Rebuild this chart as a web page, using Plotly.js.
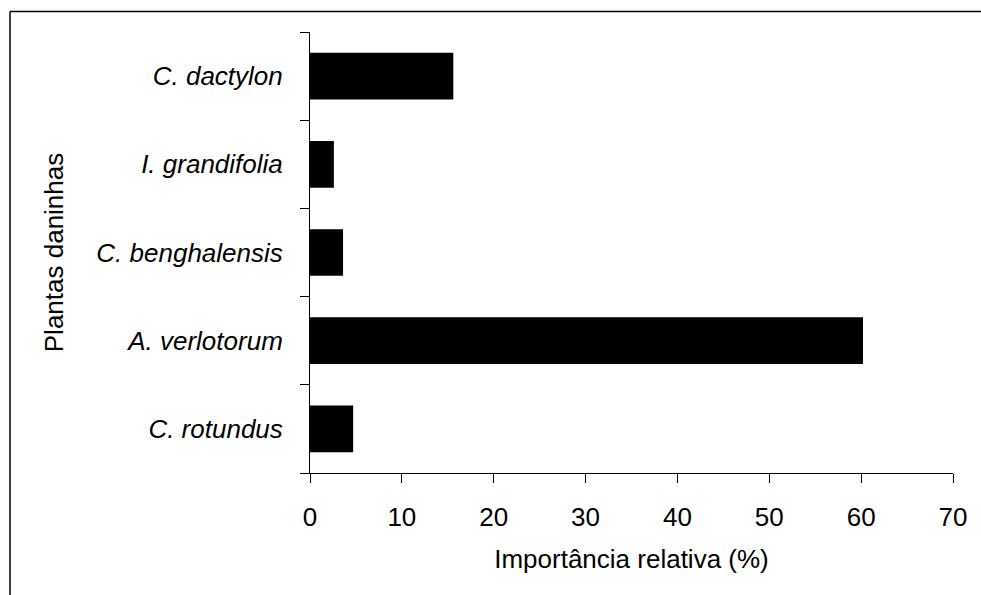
<!DOCTYPE html>
<html>
<head>
<meta charset="utf-8">
<script src="https://cdn.plot.ly/plotly-3.0.1.min.js"></script>
<style>
html,body{margin:0;padding:0;background:#fff;}
#chart{width:981px;height:595px;}
</style>
</head>
<body>
<div id="chart"></div>
<script>
const species = ["C. rotundus", "A. verlotorum", "C. benghalensis", "I. grandifolia", "C. dactylon"];
const importance = [4.7, 60.2, 3.6, 2.6, 15.6];
const xTickValues = [0, 10, 20, 30, 40, 50, 60, 70];
const xTitle = "Importância relativa (%)";
const yTitle = "Plantas daninhas";

const W = 981, H = 595;
const m = {l: 310, r: 28, t: 32, b: 122};
const pw = W - m.l - m.r, ph = H - m.t - m.b;
const px = v => (v - m.l) / pw;
const py = v => (H - m.b - v) / ph;

const trace = {
  type: "bar",
  orientation: "h",
  y: species,
  x: importance,
  marker: {color: "#000000", line: {width: 0}},
  hoverinfo: "x+y"
};

const FONT = "Liberation Sans, Arial, sans-serif";

const layout = {
  width: W, height: H,
  margin: m,
  paper_bgcolor: "#ffffff",
  plot_bgcolor: "#ffffff",
  showlegend: false,
  bargap: 0.47,
  font: {family: FONT, color: "#000", size: 26},
  xaxis: {
    range: [0, 70],
    tickvals: xTickValues,
    ticktext: xTickValues.map(String),
    ticks: "outside", ticklen: 9, tickwidth: 1, tickcolor: "#000",
    showline: true, linecolor: "#000", linewidth: 1,
    showgrid: false, zeroline: false,
    tickfont: {size: 26, family: FONT},
    ticklabelstandoff: 12,
    title: {text: xTitle, font: {size: 26, family: FONT}, standoff: 18},
    automargin: false
  },
  yaxis: {
    type: "category",
    categoryorder: "array", categoryarray: species,
    range: [-0.5, 4.5],
    ticks: "outside", tickson: "boundaries", ticklen: 9, tickwidth: 1, tickcolor: "#000",
    showline: true, linecolor: "#000", linewidth: 1,
    showgrid: false, zeroline: false,
    tickfont: {size: 26, family: FONT, style: "italic"},
    ticklabelstandoff: 21,
    title: {text: yTitle, font: {size: 26, family: FONT}, standoff: 25},
    automargin: false
  },
  shapes: [
    {type: "line", xref: "paper", yref: "paper", x0: px(10), x1: px(10), y0: py(H + 5), y1: py(11.5), line: {color: "#000", width: 1.5}},
    {type: "line", xref: "paper", yref: "paper", x0: px(10), x1: px(W + 5), y0: py(11.5), y1: py(11.5), line: {color: "#000", width: 1.5}}
  ]
};

Plotly.newPlot("chart", [trace], layout, {displayModeBar: false, staticPlot: true});
</script>
</body>
</html>
